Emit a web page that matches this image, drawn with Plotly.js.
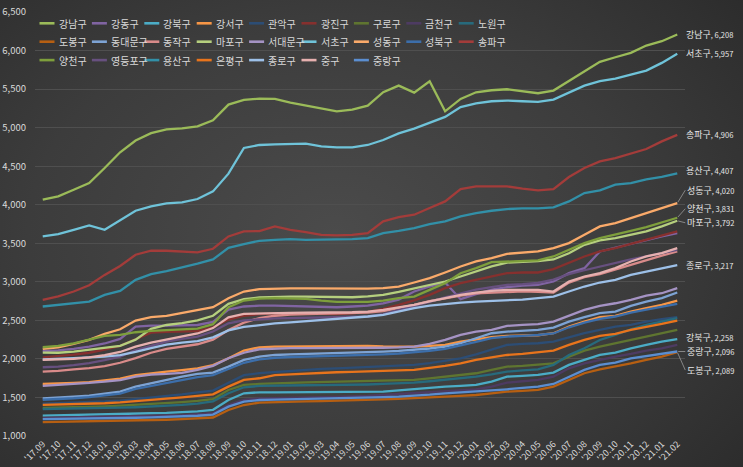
<!DOCTYPE html>
<html>
<head>
<meta charset="utf-8">
<script src="https://cdn.plot.ly/plotly-3.0.1.min.js"></script>
<style>
html,body{margin:0;padding:0;}
body{width:743px;height:467px;overflow:hidden;
background:radial-gradient(ellipse 75% 85% at 45% 50%, #4b4b4b 0%, #3c3c3c 55%, #2a2a2a 100%);}
#chart{width:743px;height:467px;}
</style>
</head>
<body>
<div id="chart"></div>
<script>
const months = ["'17.09","'17.10","'17.11","'17.12",
"'18.01","'18.02","'18.03","'18.04","'18.05","'18.06","'18.07","'18.08","'18.09","'18.10","'18.11","'18.12",
"'19.01","'19.02","'19.03","'19.04","'19.05","'19.06","'19.07","'19.08","'19.09","'19.10","'19.11","'19.12",
"'20.01","'20.02","'20.03","'20.04","'20.05","'20.06","'20.07","'20.08","'20.09","'20.10","'20.11","'20.12",
"'21.01","'21.02"];

const districts = ['강남구','강동구','강북구','강서구','관악구','광진구','구로구','금천구','노원구',
'도봉구','동대문구','동작구','마포구','서대문구','서초구','성동구','성북구','송파구',
'양천구','영등포구','용산구','은평구','종로구','중구','중랑구'];

const gangnam = [4065,4108,4195,4281,4476,4680,4833,4928,4978,4990,5017,5095,5299,5359,5377,5372,5325,5290,5247,5212,5234,5286,5459,5545,5455,5602,5212,5372,5459,5485,5498,5472,5446,5481,5602,5723,5853,5913,5970,6065,6121,6208];
const gangdong = [2100,2110,2130,2160,2200,2260,2420,2433,2433,2433,2440,2480,2640,2680,2690,2690,2685,2680,2670,2670,2680,2690,2720,2770,2874,2939,2991,2775,2840,2900,2930,2950,2960,3004,3112,3177,3394,3440,3490,3540,3590,3632];
const gangbuk = [1265,1268,1272,1276,1280,1285,1290,1295,1300,1310,1320,1340,1467,1554,1567,1567,1567,1567,1567,1567,1567,1570,1575,1592,1610,1627,1640,1651,1662,1705,1770,1780,1792,1822,1922,1987,2051,2082,2138,2181,2225,2258];
const gangseo = [1675,1680,1690,1700,1720,1745,1790,1815,1835,1855,1878,1920,2008,2108,2151,2160,2163,2165,2165,2168,2175,2170,2162,2160,2160,2170,2181,2225,2255,2281,2298,2303,2307,2333,2420,2484,2541,2558,2614,2658,2701,2757];
const gwanak = [1420,1425,1430,1438,1448,1460,1478,1495,1515,1540,1565,1590,1690,1790,1815,1830,1840,1862,1870,1878,1887,1890,1900,1910,1922,1945,1975,2008,2060,2120,2181,2195,2203,2225,2280,2333,2376,2420,2441,2484,2515,2541];
const gwangjin = [2021,2035,2055,2080,2120,2170,2260,2340,2350,2355,2360,2410,2510,2560,2580,2590,2590,2590,2585,2580,2590,2610,2650,2700,2760,2831,2918,2983,3026,3078,3112,3121,3121,3164,3242,3329,3394,3437,3493,3545,3597,3654];
const guro = [1365,1368,1372,1377,1385,1393,1403,1413,1425,1440,1455,1478,1597,1662,1675,1685,1690,1695,1700,1703,1705,1710,1714,1720,1727,1748,1770,1792,1814,1857,1900,1910,1922,1943,2030,2108,2160,2203,2246,2298,2333,2377];
const geumcheon = [1235,1238,1241,1244,1247,1250,1255,1260,1266,1272,1280,1295,1402,1467,1489,1495,1500,1503,1505,1508,1510,1520,1532,1543,1554,1565,1575,1590,1606,1640,1692,1710,1727,1770,1878,1943,1987,2030,2065,2108,2138,2182];
const nowon = [1350,1352,1355,1358,1362,1367,1373,1380,1390,1403,1420,1450,1554,1632,1649,1655,1657,1658,1660,1661,1662,1668,1675,1683,1692,1710,1727,1748,1770,1800,1835,1850,1865,1922,2051,2138,2246,2311,2385,2441,2484,2528];
const dobong = [1180,1183,1186,1189,1192,1196,1200,1205,1211,1218,1226,1240,1337,1402,1432,1440,1445,1449,1452,1456,1459,1467,1475,1482,1489,1500,1510,1521,1532,1554,1575,1586,1597,1640,1727,1814,1865,1900,1943,1987,2030,2089];
const dongdaemun = [1489,1497,1510,1525,1550,1575,1640,1685,1727,1770,1805,1822,1900,1987,2030,2051,2060,2065,2070,2075,2082,2088,2095,2105,2116,2135,2160,2203,2268,2333,2354,2365,2376,2406,2484,2541,2593,2614,2688,2744,2788,2861];
const dongjak = [1835,1845,1865,1880,1905,1950,2010,2080,2130,2160,2190,2250,2376,2470,2530,2560,2575,2580,2585,2585,2590,2600,2620,2660,2700,2750,2790,2820,2850,2860,2870,2875,2870,2860,2990,3060,3100,3160,3230,3290,3340,3394];
const mapo = [2082,2080,2095,2120,2140,2170,2250,2390,2440,2465,2500,2560,2715,2775,2797,2805,2808,2808,2805,2800,2800,2810,2830,2870,2917,2960,3004,3069,3134,3199,3250,3260,3270,3290,3370,3480,3537,3567,3610,3654,3719,3792];
const seodaemun = [1649,1660,1675,1690,1705,1725,1770,1795,1805,1820,1857,1910,2008,2080,2125,2135,2140,2140,2140,2140,2140,2140,2145,2150,2160,2194,2246,2311,2354,2376,2428,2441,2450,2484,2558,2636,2688,2722,2766,2822,2852,2918];
const seocho = [3589,3619,3675,3732,3675,3796,3922,3978,4017,4030,4074,4173,4403,4736,4775,4783,4785,4792,4758,4745,4745,4775,4840,4926,4987,5068,5139,5266,5316,5342,5351,5342,5333,5364,5450,5545,5602,5636,5688,5740,5840,5957];
const seongdong = [2130,2151,2194,2246,2324,2385,2497,2541,2558,2593,2627,2671,2788,2874,2905,2912,2915,2915,2912,2910,2912,2912,2918,2939,2991,3047,3121,3199,3264,3307,3363,3381,3394,3437,3502,3610,3719,3762,3827,3892,3957,4020];
const seongbuk = [1470,1478,1490,1505,1525,1550,1610,1650,1690,1730,1765,1790,1870,1950,1995,2015,2025,2030,2035,2040,2050,2055,2060,2070,2085,2105,2130,2170,2220,2270,2290,2300,2310,2330,2410,2470,2520,2550,2600,2640,2680,2714];
const songpa = [2766,2810,2874,2955,3090,3205,3351,3403,3403,3394,3381,3429,3589,3654,3658,3719,3675,3645,3610,3602,3610,3632,3784,3840,3870,3957,4043,4203,4238,4238,4238,4208,4186,4203,4359,4476,4563,4606,4662,4723,4822,4906];
const yangcheon = [2151,2168,2203,2246,2298,2311,2346,2363,2376,2389,2393,2450,2671,2757,2783,2788,2788,2779,2757,2740,2740,2740,2757,2788,2809,2896,2983,3112,3177,3255,3264,3264,3277,3329,3415,3502,3567,3610,3660,3710,3770,3831];
const yeongdeungpo = [1892,1900,1920,1945,1985,2030,2115,2170,2225,2260,2290,2355,2462,2500,2515,2525,2530,2535,2540,2540,2541,2550,2580,2630,2680,2740,2800,2850,2900,2930,2960,2970,2985,3030,3100,3150,3200,3240,3290,3330,3370,3415];
const yongsan = [2680,2701,2723,2744,2831,2883,3026,3100,3140,3185,3235,3290,3440,3490,3532,3545,3554,3545,3545,3545,3554,3567,3632,3662,3697,3749,3784,3848,3892,3922,3944,3952,3952,3965,4043,4151,4186,4260,4280,4330,4360,4407];
const eunpyeong = [1405,1408,1412,1418,1425,1435,1450,1465,1480,1500,1520,1540,1640,1727,1749,1790,1800,1810,1822,1827,1831,1835,1840,1850,1857,1880,1909,1943,1987,2021,2051,2065,2082,2108,2181,2246,2298,2324,2376,2411,2454,2498];
const jongno = [1995,2000,2010,2020,2030,2050,2090,2140,2185,2210,2230,2280,2370,2415,2440,2460,2475,2490,2500,2515,2528,2550,2571,2615,2658,2690,2714,2730,2744,2750,2757,2770,2788,2809,2874,2939,2991,3026,3091,3134,3177,3217];
const junggu = [1987,1990,2000,2020,2050,2090,2160,2210,2250,2285,2330,2400,2540,2583,2590,2595,2598,2600,2600,2600,2605,2614,2636,2670,2701,2745,2788,2831,2860,2883,2896,2896,2896,2874,3004,3069,3112,3177,3264,3329,3372,3437];
const jungnang = [1218,1220,1223,1226,1230,1233,1237,1242,1248,1255,1263,1278,1381,1446,1467,1472,1476,1480,1483,1486,1489,1496,1504,1511,1519,1536,1554,1565,1575,1590,1606,1623,1640,1675,1770,1857,1922,1952,2008,2038,2065,2096];

const seriesValues = [gangnam,gangdong,gangbuk,gangseo,gwanak,gwangjin,guro,geumcheon,nowon,
  dobong,dongdaemun,dongjak,mapo,seodaemun,seocho,seongdong,seongbuk,songpa,
  yangcheon,yeongdeungpo,yongsan,eunpyeong,jongno,junggu,jungnang];

const colors = ['#9BBB59','#8064A2','#4BACC6','#F79646','#2C4D75','#86302E','#5F7530','#4D3B62','#276A7C',
  '#B65F12','#7DA3D4','#D98B8A','#B5CF7E','#A593C4','#6FC3D9','#FAAA6A','#3C6EAA','#A33C3A',
  '#7E9F3C','#67507F','#3290A8','#E8741C','#9DC0E8','#E6B0AF','#5B8ED0'];

// end labels: district, vertical offset of text (px, + = down), leader flag
const endLabels = [['강남구',0,false],['서초구',0,false],['송파구',0,false],['용산구',-3,false],
  ['성동구',-13,true],['양천구',-9,true],['마포구',2,true],['종로구',0,false],
  ['강북구',-2,false],['중랑구',0,true],['도봉구',18,true]];

const L = 35, R = 685, T = 12, B = 436;
const pxX = x => (x - L) / (R - L);
const pxY = y => (B - y) / (B - T);
const txt = '#d9d9d9';
const FONT = '"Noto Sans CJK KR", "Noto Sans", sans-serif';

const traces = districts.map((d, k) => ({
  type: 'scatter', mode: 'lines', name: d,
  x: months, y: seriesValues[k],
  line: {color: colors[k], width: 2.3},
  hoverinfo: 'skip', showlegend: false
}));

const shapes = [];
const annotations = [];
districts.forEach((d, k) => {
  const col = k % 9, row = Math.floor(k / 9);
  const x0 = 39.5 + 52.4 * col;
  const y0 = 23.3 + 18.4 * row;
  shapes.push({type: 'line', xref: 'paper', yref: 'paper',
    x0: pxX(x0), x1: pxX(x0 + 15), y0: pxY(y0), y1: pxY(y0),
    line: {color: colors[k], width: 2.6}});
  annotations.push({xref: 'paper', yref: 'paper', x: pxX(x0 + 17), y: pxY(y0),
    xanchor: 'left', yanchor: 'middle', showarrow: false, text: d,
    font: {family: FONT, size: 10, color: txt}});
});

const fmt = v => v.toLocaleString('en-US');
endLabels.forEach(([d, dy, leader]) => {
  const k = districts.indexOf(d);
  const vals = seriesValues[k];
  const v = vals[vals.length - 1];
  const a = {xref: 'x', yref: 'y', x: months[months.length - 1], y: v,
    text: d + '<span style="font-size:7.5px">, ' + fmt(v) + '</span>',
    xanchor: 'left', yanchor: 'middle',
    font: {family: FONT, size: 9, color: '#e6e6e6'}};
  if (leader) {
    Object.assign(a, {showarrow: true, ax: 8, ay: dy, arrowhead: 0, arrowwidth: 0.8,
      arrowcolor: '#9a9a9a', standoff: 1});
  } else {
    Object.assign(a, {showarrow: false, xshift: 7, yshift: -dy});
  }
  annotations.push(a);
});

const layout = {
  width: 743, height: 467,
  margin: {l: L, r: 743 - R, t: T, b: 467 - B, pad: 0},
  paper_bgcolor: 'rgba(0,0,0,0)', plot_bgcolor: 'rgba(0,0,0,0)',
  showlegend: false,
  font: {family: FONT, color: txt},
  xaxis: {type: 'category', range: [-0.5, months.length - 0.5], showgrid: false,
    zeroline: false, showline: false, ticks: '', tickangle: -45, automargin: false,
    tickfont: {family: FONT, size: 9, color: txt}, fixedrange: true},
  yaxis: {range: [1000, 6500], dtick: 500, tick0: 1000, tickformat: ',d',
    showgrid: true, gridcolor: '#4f4f4f', gridwidth: 1, zeroline: false, showline: false,
    ticks: '', ticklabelstandoff: 8, automargin: false,
    tickfont: {family: FONT, size: 9.5, color: txt}, fixedrange: true},
  shapes: shapes,
  annotations: annotations
};

Plotly.newPlot('chart', traces, layout, {staticPlot: true, displayModeBar: false});
</script>
</body>
</html>
